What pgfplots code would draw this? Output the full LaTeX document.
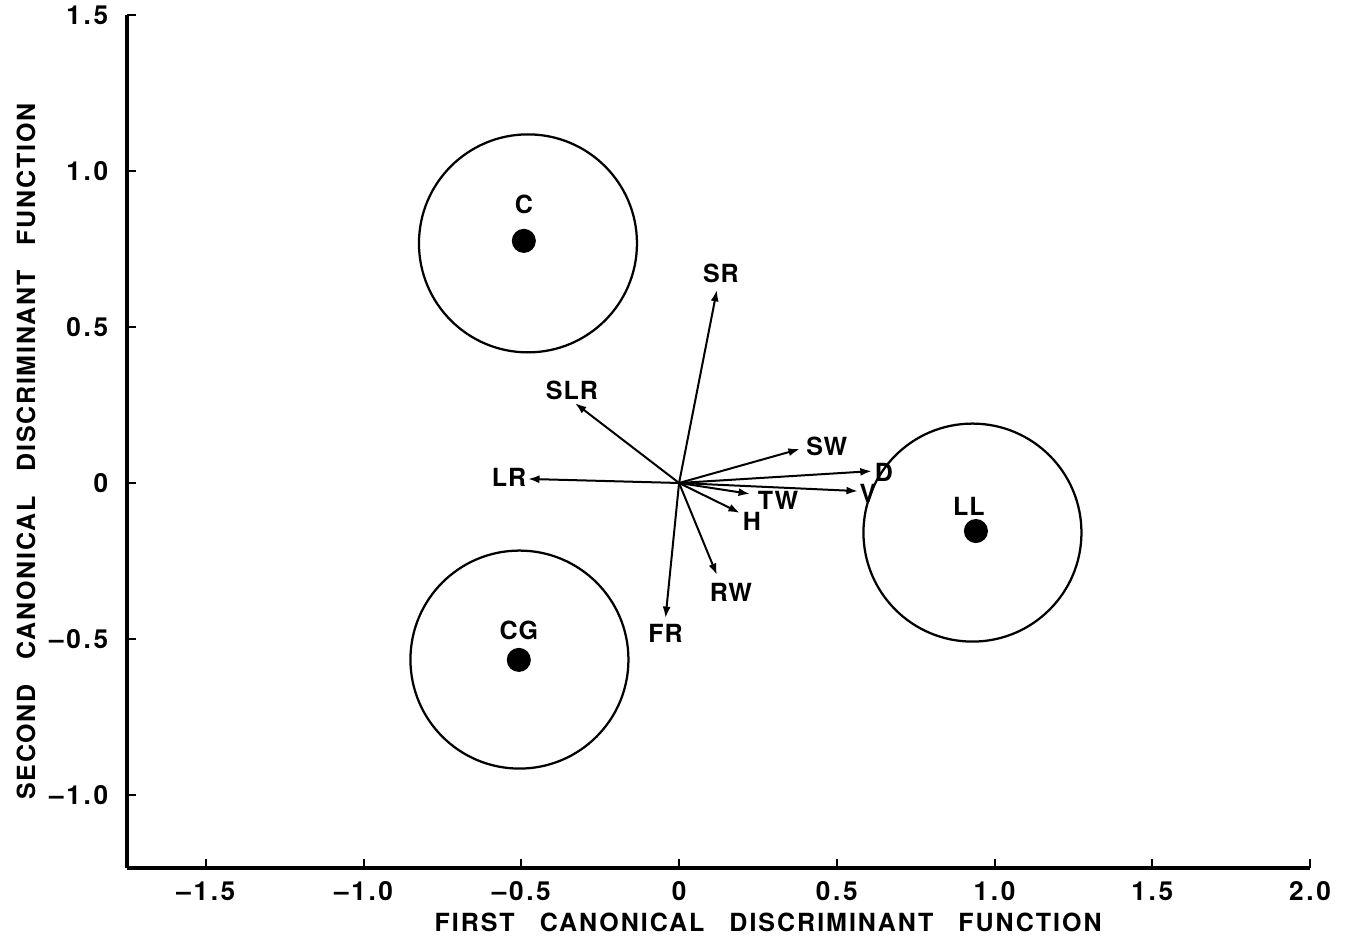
\documentclass[border=0pt]{standalone}
\usepackage{fontspec}
\setmainfont{TeX Gyre Heros}
\usepackage{pgfplots}
\pgfplotsset{compat=1.18}
\usetikzlibrary{arrows.meta}
\tikzset{lab/.style={font=\fontsize{10}{12}\bfseries\addfontfeature{LetterSpace=4}, anchor=center}}
\begin{document}
\begin{tikzpicture}
\begin{axis}[
  name=ax,
  scale only axis,
  width=473.2pt, height=341.2pt,
  xmin=-1.75, xmax=2.0, ymin=-1.234, ymax=1.5,
  axis lines=left,
  axis line style={-, line width=1.3pt},
  tick align=inside,
  major tick length=3.6pt,
  tick style={line width=0.8pt, black},
  xtick={-1.5,-1,-0.5,0,0.5,1,1.5,2},
  xticklabels={–1.5,–1.0,–0.5,0,0.5,1.0,1.5,2.0},
  ytick={-1,-0.5,0,0.5,1,1.5},
  yticklabels={–1.0,–0.5,0,0.5,1.0,1.5},
  ticklabel style={font=\fontsize{10.5}{12}\bfseries\addfontfeature{LetterSpace=10}},
  xticklabel style={yshift=-2pt},
  yticklabel style={xshift=-4pt},
  xlabel={\addfontfeature{LetterSpace=8}FIRST\hspace{10pt}CANONICAL\hspace{10pt}DISCRIMINANT\hspace{10pt}FUNCTION},
  ylabel={\addfontfeature{LetterSpace=7}SECOND\hspace{10pt}CANONICAL\hspace{10pt}DISCRIMINANT\hspace{10pt}FUNCTION},
  xlabel style={font=\fontsize{10}{12}\bfseries, at={(axis description cs:0.542,-0.0633)}, anchor=center},
  ylabel style={font=\fontsize{10}{12}\bfseries, at={(axis description cs:-0.0854,0.488)}, anchor=center},
  clip=false,
]
% group circles
\addplot[only marks, mark=o, mark size=43.6pt, mark options={line width=0.9pt, black}]
  coordinates {(-0.479,0.768) (-0.506,-0.566) (0.930,-0.159)};
% group centroids
\addplot[only marks, mark=*, mark size=4.6pt, black]
  coordinates {(-0.492,0.776) (-0.508,-0.567) (0.941,-0.154)};
\node[lab] at (axis cs:-0.492,0.776) [yshift=14.4pt] {C};
\node[lab] at (axis cs:-0.508,-0.567) [yshift=12pt] {CG};
\node[lab] at (axis cs:0.941,-0.154) [yshift=10pt, xshift=-2.8pt] {LL};
% variable vectors
\pgfplotsset{vec/.style={black, line width=0.8pt, -{Latex[length=4.6pt,width=3.2pt]}}}
\addplot[vec] coordinates {(0,0) (0.120,0.619)}  node[lab, pos=1, xshift=1.6pt, yshift=6.4pt] {SR};
\addplot[vec] coordinates {(0,0) (-0.330,0.256)} node[lab, pos=1, xshift=-1.2pt, yshift=5.2pt] {SLR};
\addplot[vec] coordinates {(0,0) (-0.479,0.013)} node[lab, pos=1, xshift=-7.6pt, yshift=0.8pt] {LR};
\addplot[vec] coordinates {(0,0) (0.383,0.109)}  node[lab, pos=1, xshift=10.8pt, yshift=1.2pt] {SW};
\addplot[vec] coordinates {(0,0) (0.611,0.038)}  node[lab, pos=1, xshift=4.8pt, yshift=-0.4pt] {D};
\addplot[vec] coordinates {(0,0) (0.567,-0.026)} node[lab, pos=1, xshift=4pt, yshift=-0.8pt] {V};
\addplot[vec] coordinates {(0,0) (0.225,-0.035)} node[lab, pos=1, xshift=11.2pt, yshift=-2.4pt] {TW};
\addplot[vec] coordinates {(0,0) (0.193,-0.096)} node[lab, pos=1, xshift=4.8pt, yshift=-3.2pt] {H};
\addplot[vec] coordinates {(0,0) (0.120,-0.295)} node[lab, pos=1, xshift=5.6pt, yshift=-6.8pt] {RW};
\addplot[vec] coordinates {(0,0) (-0.043,-0.433)} node[lab, pos=1, xshift=0pt, yshift=-6pt] {FR};
\end{axis}
\pgfresetboundingbox
\path (ax.south west) ++(-50.8pt,-30pt) rectangle ++(540.4pt,377.2pt);
\end{tikzpicture}
\end{document}
